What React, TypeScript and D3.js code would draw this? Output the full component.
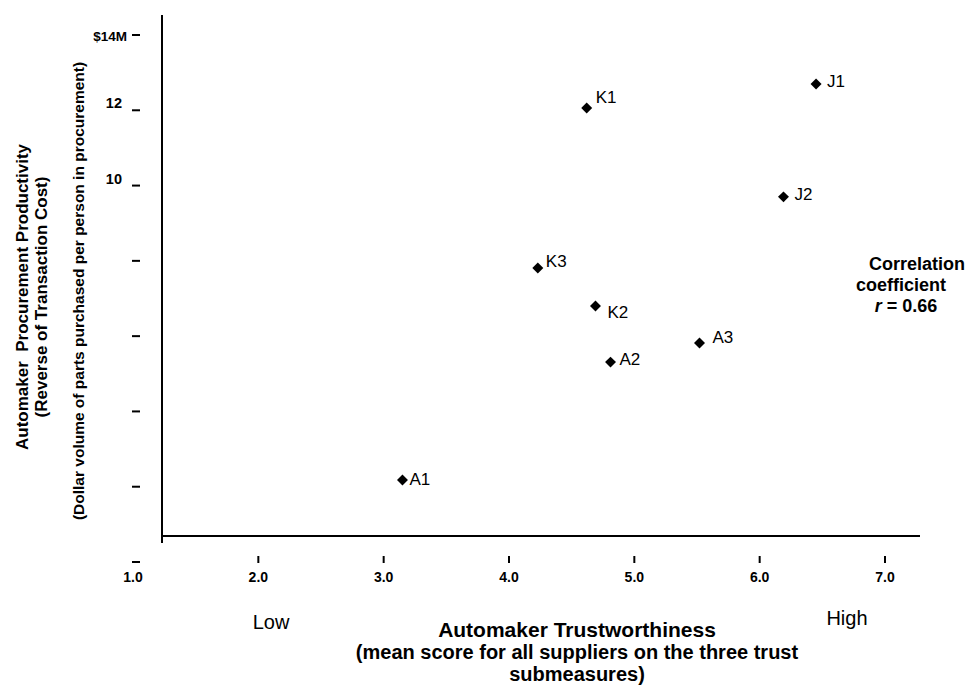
import React from "react";
import * as d3 from "d3";

const pointLabels = ["A1", "A2", "A3", "K1", "K2", "K3", "J1", "J2"];
const trustScores = [3.15, 4.81, 5.52, 4.62, 4.69, 4.23, 6.45, 6.19];
const productivity = [2.18, 5.31, 5.82, 12.06, 6.8, 7.81, 12.7, 9.7];

const yTickValues = [0, 2, 4, 6, 8, 10, 12, 14];
const yTickLabels = ["", "", "", "", "", "10", "12", "$14M"];
const xTickValues = [1, 2, 3, 4, 5, 6, 7];
const xTickLabels = ["1.0", "2.0", "3.0", "4.0", "5.0", "6.0", "7.0"];

const yTitleLines = [
  "Automaker\u00a0\u00a0Procurement Productivity",
  "(Reverse of Transaction Cost)",
];
const ySubTitle = "(Dollar volume of parts purchased per person in procurement)";
const xTitleLines = [
  "Automaker Trustworthiness",
  "(mean score for all suppliers on the three trust",
  "submeasures)",
];
const corrLines = ["Correlation", "coefficient"];

const labelOffset: Record<string, [number, number]> = {
  A1: [7, 5],
  A2: [9, 3],
  A3: [13, 0],
  K1: [9, -5],
  K2: [12, 12],
  K3: [8, -1],
  J1: [11, 3],
  J2: [11, 3],
};

const W = 970;
const H = 688;
const FONT = "'Liberation Sans', Arial, Helvetica, sans-serif";

export default function App() {
  const x = d3.scaleLinear().domain([1, 7]).range([133, 885]);
  const y = d3.scaleLinear().domain([0, 14]).range([562, 35]);
  const diamond = d3.symbol().type(d3.symbolSquare).size(60)() as string;
  const axisX = 162;
  const axisY = 536;

  return (
    <svg
      width={W}
      height={H}
      style={{ position: "absolute", left: 0, top: 0, background: "#fff" }}
      fontFamily={FONT}
    >
      <rect x={0} y={0} width={W} height={H} fill="#fff" />
      {/* frame lines */}
      <line x1={axisX} y1={15} x2={axisX} y2={543} stroke="#000" strokeWidth={2} />
      <line x1={axisX} y1={axisY} x2={920} y2={axisY} stroke="#000" strokeWidth={2} />

      {/* y ticks */}
      {yTickValues.map((v, i) => (
        <g key={"yt" + v}>
          <line x1={132} x2={140} y1={y(v)} y2={y(v)} stroke="#000" strokeWidth={2} />
          {yTickLabels[i] && (
            <text
              x={i === yTickValues.length - 1 ? 127 : 122}
              y={y(v) + (i === yTickValues.length - 1 ? 6 : -2)}
              textAnchor="end"
              fontSize={i === yTickValues.length - 1 ? 13.5 : 14.5}
              fontWeight="bold"
            >
              {yTickLabels[i]}
            </text>
          )}
        </g>
      ))}

      {/* x ticks */}
      {xTickValues.map((v, i) => (
        <g key={"xt" + v}>
          {i > 0 && (
            <line x1={x(v)} x2={x(v)} y1={556} y2={563} stroke="#000" strokeWidth={2} />
          )}
          <text x={x(v)} y={582} textAnchor="middle" fontSize={14} fontWeight="bold">
            {xTickLabels[i]}
          </text>
        </g>
      ))}

      {/* points */}
      {pointLabels.map((name, i) => {
        const px = x(trustScores[i]);
        const py = y(productivity[i]);
        const [dx, dy] = labelOffset[name];
        return (
          <g key={name}>
            <path d={diamond} transform={`translate(${px},${py}) rotate(45)`} fill="#000" />
            <text x={px + dx} y={py + dy} fontSize={17}>
              {name}
            </text>
          </g>
        );
      })}

      {/* y titles */}
      <g transform="translate(28,297) rotate(-90)">
        <text textAnchor="middle" fontSize={17} fontWeight="bold">
          {yTitleLines[0]}
        </text>
        <text y={19} textAnchor="middle" fontSize={17} fontWeight="bold">
          {yTitleLines[1]}
        </text>
      </g>
      <g transform="translate(84,291) rotate(-90)">
        <text textAnchor="middle" fontSize={15.5} fontWeight="bold">
          {ySubTitle}
        </text>
      </g>

      {/* x titles */}
      <text x={271} y={629} textAnchor="middle" fontSize={20}>
        Low
      </text>
      <text x={847} y={625} textAnchor="middle" fontSize={20}>
        High
      </text>
      {xTitleLines.map((t, i) => (
        <text
          key={t}
          x={577}
          y={637 + i * 22}
          textAnchor="middle"
          fontSize={i === 0 ? 21 : 20}
          fontWeight="bold"
        >
          {t}
        </text>
      ))}

      {/* correlation note */}
      <text x={917} y={270} textAnchor="middle" fontSize={18} fontWeight="bold">
        {corrLines[0]}
      </text>
      <text x={901} y={291} textAnchor="middle" fontSize={18} fontWeight="bold">
        {corrLines[1]}
      </text>
      <text x={906} y={312} textAnchor="middle" fontSize={18} fontWeight="bold">
        <tspan fontStyle="italic">r</tspan> = 0.66
      </text>
    </svg>
  );
}
